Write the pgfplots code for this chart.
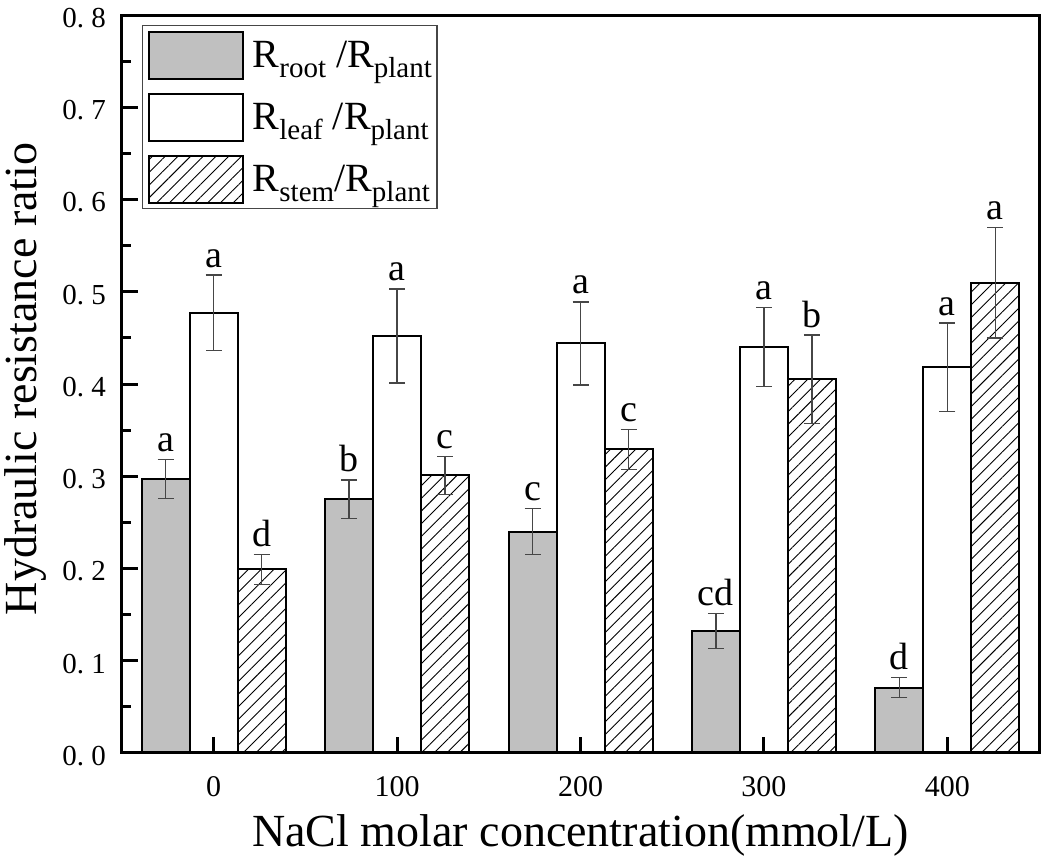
\documentclass[border=0pt]{standalone}
\usepackage{fontspec}
\setmainfont{Liberation Serif}
\usepackage{pgfplots}
\pgfplotsset{compat=1.18}
\usepackage{pgfplotstable}
\usetikzlibrary{patterns.meta}
\definecolor{bargray}{RGB}{192,192,192}
\definecolor{errgray}{RGB}{70,70,70}
\newcommand\sub[1]{\raisebox{-10pt}{\fontsize{29}{29}\selectfont #1}}

\pgfplotstableread{
x root rooterr leaf leaferr stem stemerr rl ll sl
0 0.297 0.021  0.477 0.041 0.199 0.016  a  a d
1 0.275 0.021  0.452 0.051 0.301 0.0205 b  a c
2 0.240 0.025  0.444 0.045 0.329 0.022  c  a c
3 0.132 0.019  0.440 0.043 0.405 0.048  cd a b
4 0.071 0.011  0.418 0.048 0.510 0.060  d  a a
}\datatable

\pgfplotsset{
  myleg/.style={legend image code/.code={\draw[##1, line width=2pt] (0pt,-23.5pt) rectangle (94pt,23.5pt);}},
  myerr/.style={error bars/.cd, y dir=both, y explicit,
    error bar style={line width=1.3pt, errgray},
    error mark options={rotate=90, mark size=8pt, line width=1.3pt, errgray}},
  mylab/.style={draw=none, mark=none, forget plot, nodes near coords,
    point meta=explicit symbolic,
    nodes near coords style={anchor=base, yshift=8pt, font=\fontsize{38}{38}\selectfont, text=black}},
}

\begin{document}
\begin{tikzpicture}
\begin{axis}[
  scale only axis, width=917pt, height=738pt,
  xmin=-0.5, xmax=4.5, ymin=0, ymax=0.8,
  axis line style={line width=3pt, black},
  tick style={line width=3pt, black},
  xtick={0,1,2,3,4}, xticklabels={0,100,200,300,400},
  ytick={0,0.1,0.2,0.3,0.4,0.5,0.6,0.7,0.8},
  yticklabels={0.\ 0,0.\ 1,0.\ 2,0.\ 3,0.\ 4,0.\ 5,0.\ 6,0.\ 7,0.\ 8},
  minor y tick num=1,
  tick align=inside, xtick pos=bottom, ytick pos=left,
  major tick length=16pt, minor tick length=9pt,
  xticklabel style={anchor=base, yshift=-43pt, font=\fontsize{30}{30}\selectfont},
  yticklabel style={anchor=east, inner sep=0pt, xshift=-16pt, yshift=-3pt, font=\fontsize{29}{29}\selectfont},
  xlabel={NaCl molar concentration(mmol/L)},
  ylabel={Hydraulic resistance ratio},
  xlabel style={at={(axis description cs:0.5,0)}, anchor=base, yshift=-93pt, font=\fontsize{46}{46}\selectfont},
  ylabel style={at={(axis description cs:-0.0927,0.507)}, anchor=base, rotate=0, font=\fontsize{46}{46}\selectfont},
  axis on top,
  legend cell align=left,
  legend style={at={(axis description cs:0.0218,0.9865)}, anchor=north west,
    draw=errgray, line width=1.5pt, fill=white, inner xsep=5pt, inner ysep=5pt,
    row sep=13pt, font=\fontsize{40}{40}\selectfont, nodes={inner sep=0pt},
    /tikz/every odd column/.append style={column sep=9pt}},
]
\addplot[ybar, bar width=48pt, bar shift=0pt, fill=bargray, draw=black, line width=2pt, myleg, myerr]
  table[x expr=\thisrow{x}-0.26172, y=root, y error=rooterr] {\datatable};
\addlegendentry{R\sub{root} /R\sub{plant}}
\addplot[ybar, bar width=48pt, bar shift=0pt, fill=white, draw=black, line width=2pt, myleg, myerr]
  table[x=x, y=leaf, y error=leaferr] {\datatable};
\addlegendentry{R\sub{leaf} /R\sub{plant}}
\addplot[ybar, bar width=48pt, bar shift=0pt, fill=white, postaction={pattern={Lines[angle=45, distance=9pt, line width=0.9pt]}}, pattern color=black, draw=black, line width=2pt, myleg, myerr]
  table[x expr=\thisrow{x}+0.26172, y=stem, y error=stemerr] {\datatable};
\addlegendentry{R\sub{stem}/R\sub{plant}\rule[-31pt]{0pt}{1pt}}
\addplot[mylab] table[x expr=\thisrow{x}-0.26172, y expr=\thisrow{root}+\thisrow{rooterr}, meta=rl] {\datatable};
\addplot[mylab] table[x=x, y expr=\thisrow{leaf}+\thisrow{leaferr}, meta=ll] {\datatable};
\addplot[mylab] table[x expr=\thisrow{x}+0.26172, y expr=\thisrow{stem}+\thisrow{stemerr}, meta=sl] {\datatable};
\end{axis}
\pgfresetboundingbox
\path (-122pt,-103pt) rectangle (919pt,753pt);
\end{tikzpicture}
\end{document}
